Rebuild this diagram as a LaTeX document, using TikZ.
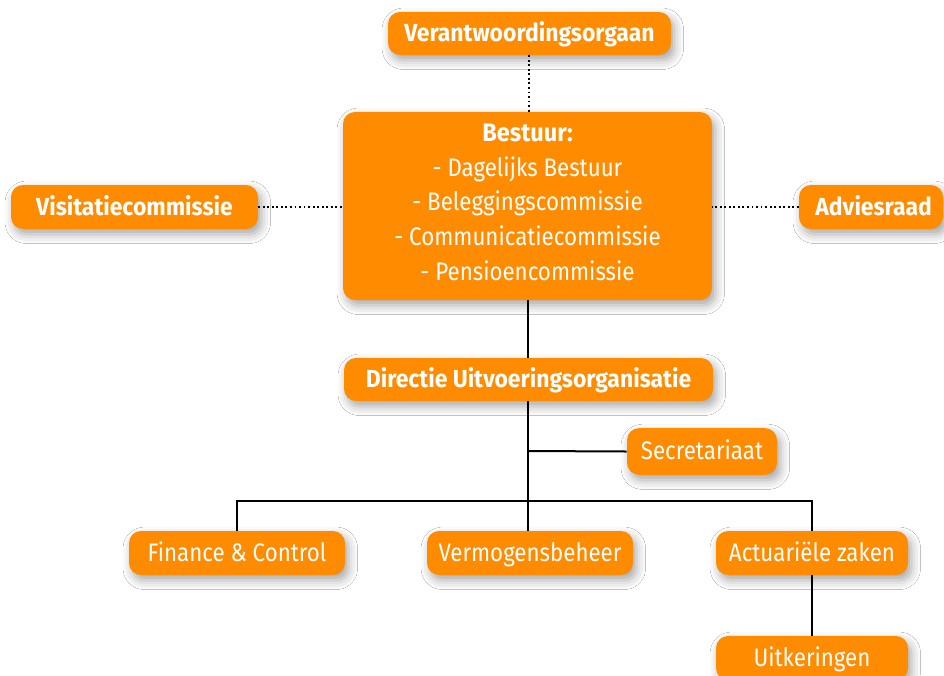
\documentclass[tikz,border=0pt]{standalone}
\usepackage{fontspec}
\setmainfont{Fira Sans}[FakeStretch=0.88, BoldFeatures={FakeStretch=0.93}]
\usetikzlibrary{shadows.blur}
\definecolor{org}{HTML}{FF8C00}
\tikzset{
  box/.style={draw=none, fill=org, rounded corners=9pt, text=white, inner sep=0pt,
    font=\fontsize{19}{26}\selectfont, text height=14.5pt, text depth=2pt,
    blur shadow={shadow xshift=2.5pt, shadow yshift=-4pt, shadow blur radius=7pt, shadow opacity=35}},
  boldbox/.style={box, font=\fontsize{18.5}{26}\selectfont\bfseries},
  solidline/.style={line width=1.5pt, black},
  dotline/.style={line width=1.4pt, black, dotted}
}
\begin{document}
\begin{tikzpicture}[x=0.75pt,y=-0.75pt]
\useasboundingbox (0,0) rectangle (944,675);
\fill[white] (0,0) rectangle (944,675);
\node[boldbox, minimum width=212.25pt, minimum height=32.25pt] (verant) at (529.5,33.5) {Verantwoordingsorgaan};
\node[box, minimum width=276.75pt, minimum height=141pt, align=center, text height=, text depth=] (bestuur) at (527.5,206)
  {\textbf{Bestuur:}\\- Dagelijks Bestuur\\- Beleggingscommissie\\- Communicatiecommissie\\- Pensioencommissie\\[-20pt]};
\node[boldbox, minimum width=185.25pt, minimum height=33pt] (visit) at (134.5,207) {Visitatiecommissie};
\node[boldbox, minimum width=108pt, minimum height=33pt] (advies) at (871,207) {\hspace*{4pt}Adviesraad};
\node[boldbox, minimum width=276.75pt, minimum height=32.25pt] (direc) at (528.5,379.5) {Directie Uitvoeringsorganisatie};
\node[box, minimum width=112.5pt, minimum height=35pt] (secr) at (702,451.5) {Secretariaat};
\node[box, minimum width=162pt, minimum height=33pt] (fin) at (237,553) {Finance \& Control};
\node[box, minimum width=154.5pt, minimum height=33pt] (verm) at (530,553) {Vermogensbeheer};
\node[box, minimum width=144pt, minimum height=33pt] (actu) at (812,553) {Actuariële zaken};
\node[box, minimum width=144pt, minimum height=33pt] (uitk) at (812,658) {Uitkeringen};
% connectors
\draw[dotline] (verant.south -| 529,0) -- (bestuur.north -| 529,0);
\draw[dotline] (visit.east) -- (visit.east -| bestuur.west);
\draw[dotline] (advies.west) -- (advies.west -| bestuur.east);
\draw[solidline] (bestuur.south -| 528,0) -- (direc.north -| 528,0);
\coordinate (bus) at (528,501);
\draw[solidline] (direc.south -| 528,0) -- (bus);
\draw[solidline] (528,451) -- (secr.west);
\draw[solidline] (fin.north) |- (bus) -| (actu.north);
\draw[solidline] (bus) -- (verm.north -| 528,0);
\draw[solidline] (actu.south) -- (uitk.north);
\end{tikzpicture}
\end{document}
